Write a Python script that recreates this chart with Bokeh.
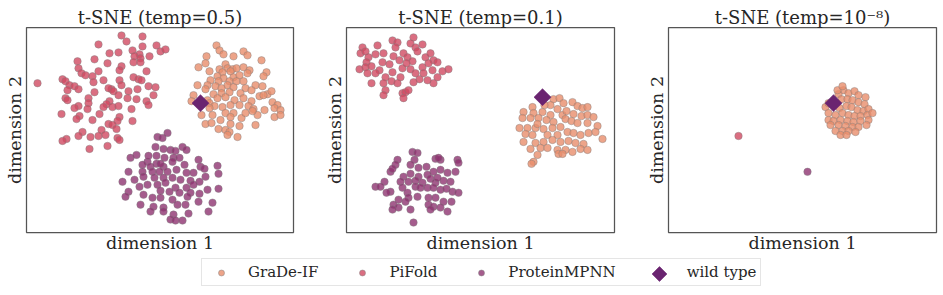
import numpy as np
from bokeh.plotting import figure
from bokeh.layouts import row, column
from bokeh.models import Range1d, Legend, LegendItem, FixedTicker
from bokeh.embed import file_html
from bokeh.resources import INLINE

# ---------------- data (t-SNE coordinates, arbitrary units) ----------------
series_names = ["GraDe-IF", "PiFold", "ProteinMPNN", "wild type"]
panel_titles = ["t-SNE (temp=0.5)", "t-SNE (temp=0.1)", "t-SNE (temp=10\u207b\u2078)"]

# temp = 0.5
t05_gradeif_d1 = [216,219,223,243,247,206,261,205,233,225, 198,219,227,232,236,243,249,209,222,230,
                  217,223,233,239,247,266,263,210,218,229, 236,243,197,207,227,255,205,215,221,233,
                  245,251,262,267,271,221,229,240,193,213, 259,263,225,243,207,217,234,191,209,251,
                  272,277,214,222,230,239,248,209,253,264, 274,280,225,233,257,201,212,230,241,220,
                  274,280,205,211,230,239,255,218,225,229, 227,237,252,245]
t05_gradeif_d2 = [45,50,54,51,55,56,60,63,56,64, 67,69,68,69,68,67,70,71,72,71,
                  76,78,77,75,73,72,76,80,81,81, 81,81,85,85,85,85,89,86,88,87,
                  88,90,86,94,91,93,92,93,95,94, 96,95,97,98,100,98,100,101,103,101,
                  102,105,106,107,105,105,106,108,109,110, 108,110,113,113,115,115,115,117,118,120,
                  117,115,124,123,124,126,125,129,130,132, 135,137,111,113]
t05_pifold_d1 = [121,142,126,98,156,142,132,160,165,109, 118,139,134,94,149,140,77,107,133,140,
                 121,78,119,98,146,81,85,62,92,119, 133,138,103,65,93,141,37,69,121,74,
                 148,155,67,78,111,137,108,94,113,128, 153,118,88,127,136,65,67,109,146,88,
                 106,78,103,148,74,87,112,118,131,61, 99,79,76,92,119,132,117,108,112,116,
                 101,82,78,90,66,62,98,105,117,119, 107,89]
t05_pifold_d2 = [35,36,41,44,45,46,50,51,49,53, 52,54,56,59,56,58,61,63,62,62,
                 66,68,70,71,71,73,75,79,76,80, 77,79,80,81,82,80,83,85,85,86,
                 86,87,90,89,89,89,88,92,91,91, 95,95,98,98,99,98,100,101,101,103,
                 104,106,107,105,108,109,107,106,109,114, 114,116,119,120,117,121,121,124,125,129,
                 130,132,136,137,139,141,136,135,138,140, 146,149]
t05_mpnn_d1 = [157,162,167,155,163,170,175,182,186,130, 136,147,156,164,173,179,198,142,150,156,
               163,172,184,200,204,217,128,142,152,159, 167,176,186,193,205,218,143,122,134,154,
               163,172,180,190,199,139,147,157,165,175, 186,193,207,218,128,143,152,160,169,179,
               190,199,125,160,172,187,140,153,163,177, 185,198,212,150,163,173,188,208,170,175,
               182,160,148]
t05_mpnn_d2 = [137,138,133,147,149,150,151,147,150,158, 155,162,156,158,158,158,160,165,167,164,
               167,162,165,167,169,166,172,172,172,172, 172,170,173,173,177,174,177,182,180,178,
               178,178,180,181,182,187,185,185,183,188, 188,185,190,189,192,195,198,191,192,193,
               193,194,197,198,200,197,205,207,208,205, 205,202,203,212,212,215,214,212,220,221,
               221,164,156]
t05_wt_d1 = [200]
t05_wt_d2 = [103]

# temp = 0.1
t01_gradeif_d1 = [553,559,563,550,557,572,577,582,587,532, 523,533,542,550,562,566,573,581,587,522,
                  530,538,546,553,565,571,577,587,597,519, 527,535,543,552,560,567,573,580,588,595,
                  525,532,547,557,602,523,535,543,552,560, 568,575,583,530,540,547,557,565,572,580,
                  587,537,558,562,533,531,544,537,593]
t01_gradeif_d2 = [99,98,103,105,109,102,106,108,107,107, 112,113,112,115,115,111,114,116,115,118,
                  118,118,120,122,119,121,123,123,126,128, 128,128,129,128,127,132,133,135,133,132,
                  134,135,135,135,139,142,143,142,140,142, 141,143,144,149,148,148,150,150,152,149,
                  150,155,154,154,162,164,105,124,117]
t01_pifold_d1 = [362,360,365,368,366,359,365,367,371,377, 375,383,382,379,385,383,385,383,392,397,
                 395,393,389,392,391,399,402,400,402,405, 403,408,403,407,412,413,410,415,422,417,
                 406,410,415,422,419,413,425,430,433,437, 428,432,423,437,433,442,448,427,397,375,
                 371]
t01_pifold_d2 = [47,53,51,57,62,69,67,73,83,45, 54,53,62,70,77,83,90,95,40,42,
                 47,56,64,72,81,60,68,77,93,92, 98,90,53,57,61,37,43,47,44,51,
                 63,69,73,67,79,82,57,53,60,62, 63,70,73,77,83,71,69,80,83,73,
                 66]
t01_mpnn_d1 = [412,417,414,397,395,390,392,410,418,426, 435,440,438,457,458,455,447,440,433,427,
               418,410,403,400,408,415,422,430,435,443, 450,384,375,380,390,386,402,407,415,420,
               427,433,440,446,452,458,417,408,398,393, 398,392,410,428,435,443,451,428,433,440,
               447,430,413,405,437]
t01_mpnn_d2 = [152,153,160,160,165,172,169,165,168,167, 159,160,158,160,163,172,173,170,172,175,
               177,174,177,182,182,181,183,179,183,181, 182,182,187,187,192,193,188,193,187,188,
               188,188,190,189,192,193,197,198,200,205, 208,210,210,198,198,202,202,205,207,208,
               212,210,223,202,178]
t01_wt_d1 = [542]
t01_wt_d2 = [97]

# temp = 1e-8
t1e8_gradeif_d1 = [843,848,838,854,858,865,841,847,852,858, 864,825,839,846,851,857,863,868,828,835,
                   842,848,854,860,867,872,828,833,840,847, 853,860,868,830,838,845,852,858,866,835,
                   842,848,855,840,846,828,837,842]
t1e8_gradeif_d2 = [90,93,94,91,95,97,99,99,100,102, 104,107,108,106,107,110,111,109,113,115,
                   113,115,116,116,115,113,120,121,120,121, 122,121,120,125,125,126,127,127,125,131,
                   131,131,132,135,135,103,90,86]
t1e8_pifold_d1 = [738]
t1e8_pifold_d2 = [136]
t1e8_mpnn_d1 = [807]
t1e8_mpnn_d2 = [172]
t1e8_wt_d1 = [833]
t1e8_wt_d2 = [103]

# ---------------- style ----------------
FONT = "DejaVu Serif"
TEXT = "#262626"
COLORS = {"GraDe-IF": "#e98d6b", "PiFold": "#d14a61", "ProteinMPNN": "#8f3371", "wild type": "#6a2470"}
EDGE = "#808080"


def make_panel(title, xr, width, left_border, right_border):
    p = figure(width=width, height=255, x_range=Range1d(*xr), y_range=Range1d(233, 27),
               output_backend="svg", toolbar_location=None,
               min_border_left=left_border, min_border_right=right_border,
               min_border_top=27, min_border_bottom=22)
    p.title.text = title
    p.title.text_font = FONT
    p.title.text_font_size = "18px"
    p.title.text_font_style = "normal"
    p.title.text_color = TEXT
    p.title.align = "center"
    p.title.standoff = 0
    p.grid.visible = False
    for ax in (p.xaxis[0], p.yaxis[0]):
        ax.ticker = FixedTicker(ticks=[])
        ax.major_tick_out = 0
        ax.major_tick_in = 0
        ax.minor_tick_out = 0
        ax.minor_tick_in = 0
        ax.major_label_standoff = 0
        ax.axis_line_color = None
        ax.axis_label_text_font = FONT
        ax.axis_label_text_font_size = "17.5px"
        ax.axis_label_text_font_style = "normal"
        ax.axis_label_text_color = TEXT
    p.xaxis[0].axis_label = "dimension 1"
    p.xaxis[0].axis_label_standoff = 0
    p.yaxis[0].axis_label = "dimension 2"
    p.yaxis[0].axis_label_standoff = 2
    p.outline_line_color = "#555555"
    p.outline_line_width = 1.25
    return p


def add_points(p, d1, d2, name):
    p.scatter(x=d1, y=d2, marker="circle", size=7.5, fill_color=COLORS[name], fill_alpha=0.8,
              line_color=EDGE, line_alpha=0.7, line_width=0.6)


def add_wt(p, d1, d2):
    p.scatter(x=d1, y=d2, marker="square", angle=np.pi / 4, size=12,
              fill_color=COLORS["wild type"], line_color=COLORS["wild type"], line_width=0.6)


p1 = make_panel(panel_titles[0], (26, 293), 318, 26, 25)
add_points(p1, t05_gradeif_d1, t05_gradeif_d2, "GraDe-IF")
add_points(p1, t05_pifold_d1, t05_pifold_d2, "PiFold")
add_points(p1, t05_mpnn_d1, t05_mpnn_d2, "ProteinMPNN")
add_wt(p1, t05_wt_d1, t05_wt_d2)

p2 = make_panel(panel_titles[1], (346, 614), 322, 28, 26)
add_points(p2, t01_gradeif_d1, t01_gradeif_d2, "GraDe-IF")
add_points(p2, t01_pifold_d1, t01_pifold_d2, "PiFold")
add_points(p2, t01_mpnn_d1, t01_mpnn_d2, "ProteinMPNN")
add_wt(p2, t01_wt_d1, t01_wt_d2)

p3 = make_panel(panel_titles[2], (668, 936), 300, 28, 4)
add_points(p3, t1e8_gradeif_d1, t1e8_gradeif_d2, "GraDe-IF")
add_points(p3, t1e8_pifold_d1, t1e8_pifold_d2, "PiFold")
add_points(p3, t1e8_mpnn_d1, t1e8_mpnn_d2, "ProteinMPNN")
add_wt(p3, t1e8_wt_d1, t1e8_wt_d2)

# ---------------- legend strip (frame units = pixels) ----------------
lf = figure(width=940, height=32, x_range=Range1d(0, 940), y_range=Range1d(0, 32),
            output_backend="svg", toolbar_location=None, min_border=0,
            x_axis_type=None, y_axis_type=None, outline_line_color=None)
# legend proxies: a single NaN point each (never drawn), only their styles are used
proxy = np.array([np.nan])
items = []
for name in series_names[:3]:
    r = lf.scatter(x=proxy, y=proxy, marker="circle", size=7, fill_color=COLORS[name], fill_alpha=0.8,
                   line_color=EDGE, line_alpha=0.8, line_width=0.6)
    items.append(LegendItem(label=name, renderers=[r]))
# Bokeh never rotates legend glyphs, so the wild-type swatch (a rotated square) is
# placed under the transparent legend in its slot instead.
rwt_proxy = lf.scatter(x=proxy, y=proxy, marker="square", size=1, fill_alpha=0, line_alpha=0)
items.append(LegendItem(label=series_names[3], renderers=[rwt_proxy]))
WT_SWATCH_X, WT_SWATCH_Y = 659, 13.5
lf.scatter(x=[WT_SWATCH_X], y=[WT_SWATCH_Y], marker="square", angle=np.pi / 4, size=10.5,
           fill_color=COLORS["wild type"], line_color=COLORS["wild type"], line_width=0.6)

legend = Legend(items=items, orientation="horizontal", location=(201, 1),
                glyph_width=30, glyph_height=15, label_standoff=12, spacing=29,
                padding=4, margin=0, label_height=14,
                label_text_font=FONT, label_text_font_size="15px", label_text_color=TEXT,
                border_line_color="#cccccc", border_line_width=1,
                background_fill_alpha=0)
lf.add_layout(legend)

layout = column(row(p1, p2, p3), lf)

open("out.html", "w").write(file_html(layout, INLINE))
